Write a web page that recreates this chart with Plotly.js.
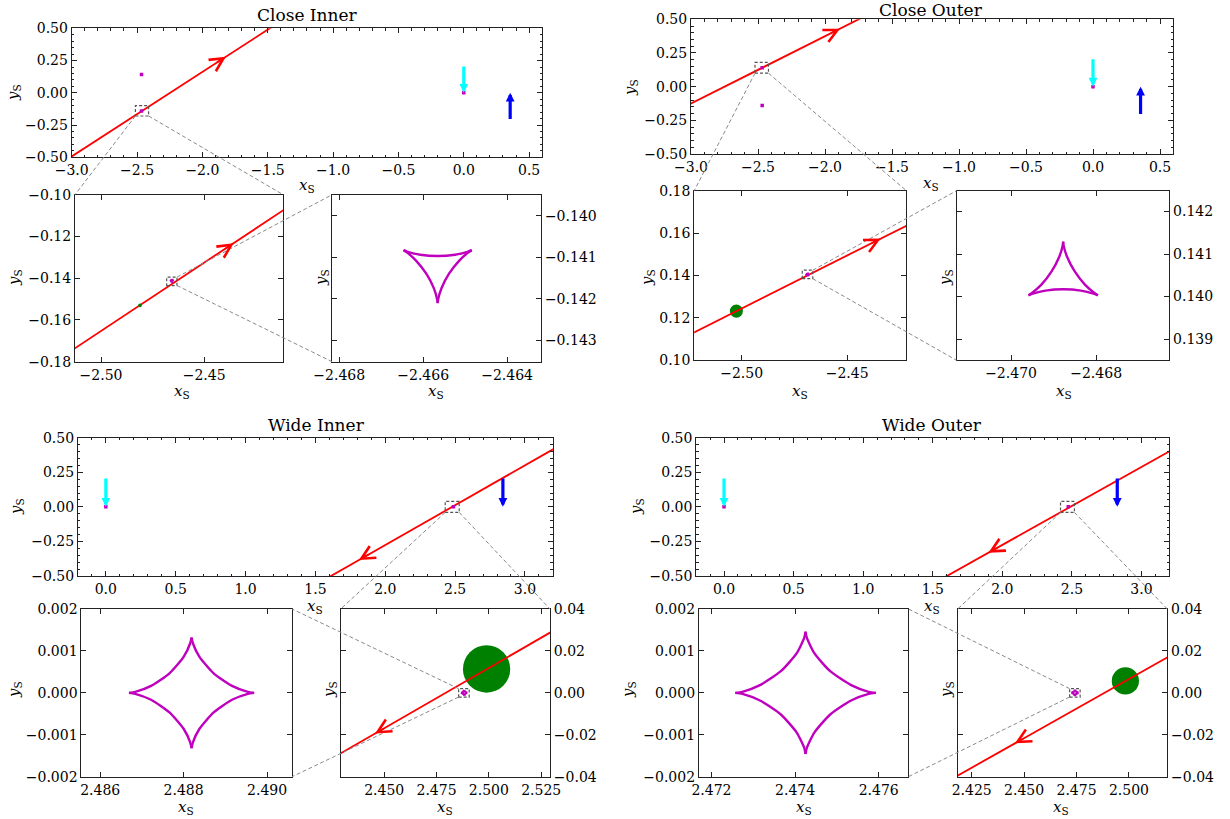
<!DOCTYPE html>
<html><head><meta charset="utf-8">
<script src="https://cdn.plot.ly/plotly-3.0.1.min.js"></script>
<style>html,body{margin:0;padding:0;background:#fff}#chart{width:1230px;height:819px}</style>
</head><body><div id="chart"></div>
<script>
// ---------------- DATA ----------------
const panelTitles = ['Close Inner', 'Close Outer', 'Wide Inner', 'Wide Outer'];

// caustic curves (arcs separated by null)
const closeInnerCausticX = [-2.464842,-2.464944,-2.465240,-2.465655,-2.466070,-2.466366,-2.466468,null,
  -2.466468,-2.466378,-2.466165,-2.465926,-2.465749,-2.465668,-2.465655,null,
  -2.465655,-2.465642,-2.465561,-2.465384,-2.465145,-2.464932,-2.464842];
const closeInnerCausticY = [-0.140824,-0.140864,-0.140934,-0.140966,-0.140934,-0.140864,-0.140824,null,
  -0.140824,-0.140885,-0.141082,-0.141392,-0.141734,-0.142001,-0.142102,null,
  -0.142102,-0.142001,-0.141734,-0.141392,-0.141082,-0.140885,-0.140824];
const closeOuterCausticX = [-2.467959,-2.468062,-2.468358,-2.468775,-2.469192,-2.469488,-2.469591,null,
  -2.469591,-2.469501,-2.469286,-2.469047,-2.468869,-2.468788,-2.468775,null,
  -2.468775,-2.468762,-2.468681,-2.468503,-2.468264,-2.468049,-2.467959];
const closeOuterCausticY = [0.14003,0.14007,0.14014,0.14017,0.14014,0.14007,0.14003,null,
  0.14003,0.14009,0.14028,0.14059,0.14093,0.14119,0.14129,null,
  0.14129,0.14119,0.14093,0.14059,0.14028,0.14009,0.14003];
const wideInnerCausticX = [2.48969,2.48954,2.48916,2.48872,2.48838,2.48822,2.48819,null,
  2.48819,2.48816,2.48800,2.48766,2.48722,2.48684,2.48669,null,
  2.48669,2.48684,2.48722,2.48766,2.48800,2.48816,2.48819,null,
  2.48819,2.48822,2.48838,2.48872,2.48916,2.48954,2.48969];
const wideInnerCausticY = [0,0.000023,0.000165,0.000467,0.000857,0.001189,0.00132,null,
  0.00132,0.001189,0.000857,0.000467,0.000165,0.000023,0,null,
  0,-0.000023,-0.000165,-0.000467,-0.000857,-0.001189,-0.00132,null,
  -0.00132,-0.001189,-0.000857,-0.000467,-0.000165,-0.000023,0];
const wideOuterCausticX = [2.47593,2.47576,2.47534,2.47484,2.47446,2.47428,2.47425,null,
  2.47425,2.47422,2.47404,2.47366,2.47316,2.47274,2.47257,null,
  2.47257,2.47274,2.47316,2.47366,2.47404,2.47422,2.47425,null,
  2.47425,2.47428,2.47446,2.47484,2.47534,2.47576,2.47593];
const wideOuterCausticY = [0,0.000025,0.000183,0.000516,0.000948,0.001315,0.00146,null,
  0.00146,0.001315,0.000948,0.000516,0.000183,0.000025,0,null,
  0,-0.000025,-0.000183,-0.000516,-0.000948,-0.001315,-0.00146,null,
  -0.00146,-0.001315,-0.000948,-0.000516,-0.000183,-0.000025,0];

// caustic positions shown as dots on the wide-view axes
const closeInnerDotsX = [-2.4657, -2.4657, 0.0];
const closeInnerDotsY = [-0.1415, 0.1415, 0.0];
const closeOuterDotsX = [-2.4688, -2.4688, 0.0];
const closeOuterDotsY = [0.1405, -0.1405, 0.0];
const wideInnerDotsX = [2.4882, 0.0];
const wideInnerDotsY = [0.0, 0.0];
const wideOuterDotsX = [2.4742, 0.0];
const wideOuterDotsY = [0.0, 0.0];

// source trajectories (straight lines)
const closeInnerTrajX = [-3.1, -1.4];
const closeInnerTrajY = [-0.5583, 0.5552];
const closeOuterTrajX = [-3.1, -1.6];
const closeOuterTrajY = [-0.1756, 0.5745];
const wideInnerTrajX = [1.5, 3.3];
const wideInnerTrajY = [-0.5641, 0.4727];
const wideOuterTrajX = [1.5, 3.3];
const wideOuterTrajY = [-0.5574, 0.4578];

// direction arrows on trajectories: [tailX, tailY, tipX, tipY] for wide view and zoom view
const trajArrowWide = [[-1.90, 0.2277, -1.82, 0.2801], [-1.968, 0.3905, -1.888, 0.4305],
                       [1.891, -0.3388, 1.811, -0.3849], [1.98, -0.2867, 1.90, -0.3318]];
const trajArrowZoom = [[-2.4407, -0.1265, -2.4357, -0.1232], [-2.4391, 0.1549, -2.4341, 0.1574],
                       [2.4506, -0.01657, 2.4456, -0.01945], [2.4506, -0.0213, 2.4456, -0.0241]];

// sources
const sourceX = [-2.4811, -2.5025, 2.4989, 2.4983];
const sourceY = [-0.1530, 0.1232, 0.0114, 0.0057];
const sourceR = [0.0009, 0.0031, 0.0113, 0.0065];

// lenses (arrow tip positions) and arrow tails
const lens1X = [0.0, 0.0, 0.0, 0.0];
const lens1TailY = [0.215, 0.215, 0.215, 0.215];
const lens2X = [0.355, 0.355, 2.842, 2.826];
const lens2TailY = [-0.215, -0.215, 0.215, 0.215];
const lensTipY = [0.0, 0.0, 0.0, 0.0];

// axis ranges (wide view, zoom A, zoom B for each panel)
const rangeX = [[-3.0, 0.6], [-2.5126, -2.4117], [-2.46817, -2.46319],
                [-3.0, 0.6], [-2.5225, -2.4219], [-2.47128, -2.46628],
                [-0.2, 3.2], [2.48555, 2.4906], [2.4292, 2.5292],
                [-0.2, 3.2], [2.4717, 2.47671], [2.4183, 2.5183]];
const rangeY = [[-0.5, 0.5], [-0.18, -0.10], [-0.14351, -0.13949],
                [-0.5, 0.5], [0.10, 0.18], [0.13850, 0.14249],
                [-0.5, 0.5], [-0.002, 0.002], [-0.04, 0.04],
                [-0.5, 0.5], [-0.002, 0.002], [-0.04, 0.04]];

// ---------------- LAYOUT GEOMETRY (pixels) ----------------
const W = 1230, H = 819;
const boxes = [
  [71.7, 542.2, 28.3, 157.3], [75, 283.2, 194.7, 361.7], [332.1, 541.1, 194.7, 361.7],
  [691, 1173.4, 19.3, 154], [694.2, 906.4, 190.7, 360.3], [956.6, 1169.3, 190.7, 360.3],
  [77.9, 552.9, 437.7, 576], [81.4, 292.1, 609, 776.7], [340.7, 550, 609, 776.7],
  [696.2, 1169.3, 437.7, 576], [698.9, 908.4, 609, 776.7], [957.7, 1167.3, 609, 776.7]
];
const causticsX = [closeInnerCausticX, closeOuterCausticX, wideInnerCausticX, wideOuterCausticX];
const causticsY = [closeInnerCausticY, closeOuterCausticY, wideInnerCausticY, wideOuterCausticY];
const dotsX = [closeInnerDotsX, closeOuterDotsX, wideInnerDotsX, wideOuterDotsX];
const dotsY = [closeInnerDotsY, closeOuterDotsY, wideInnerDotsY, wideOuterDotsY];
const trajX = [closeInnerTrajX, closeOuterTrajX, wideInnerTrajX, wideOuterTrajX];
const trajY = [closeInnerTrajY, closeOuterTrajY, wideInnerTrajY, wideOuterTrajY];

const FONT = 'DejaVu Serif';
const RED = '#ff0000', MAG = '#bf00bf', GREEN = '#008000', BLUE = '#0000ff', CYAN = '#00ffff';

const sfx = k => (k === 0 ? '' : String(k + 1));
const xid = k => 'x' + sfx(k);
const yid = k => 'y' + sfx(k);

function toPaper(k, x, y) {
  const b = boxes[k], rx = rangeX[k], ry = rangeY[k];
  const px = b[0] + (x - rx[0]) / (rx[1] - rx[0]) * (b[1] - b[0]);
  const py = b[3] - (y - ry[0]) / (ry[1] - ry[0]) * (b[3] - b[2]);
  return [px / W, 1 - py / H];
}
function cornerPaper(k, which) {
  const b = boxes[k];
  const px = which.includes('l') ? b[0] : b[1];
  const py = which.includes('t') ? b[2] : b[3];
  return [px / W, 1 - py / H];
}

const layout = {
  width: W, height: H, margin: {l: 0, r: 0, t: 0, b: 0},
  paper_bgcolor: '#fff', plot_bgcolor: '#fff', showlegend: false,
  font: {family: FONT, size: 14, color: '#000'},
  shapes: [], annotations: []
};

const axisBase = {
  showline: true, linecolor: '#222', linewidth: 1, mirror: 'ticks',
  ticks: 'inside', ticklen: 5, tickwidth: 1, tickcolor: '#222',
  showgrid: false, zeroline: false, autorange: false, fixedrange: true,
  tickfont: {family: FONT, size: 14, color: '#000'}
};

// tick specs per axis role
function tickSpec(k) {
  const p = Math.floor(k / 3), role = k % 3;
  const close = p < 2;
  if (role === 0) return {x: {dtick: 0.5, fmt: '.1f', minor: 0.1}, y: {dtick: 0.25, fmt: '.2f', minor: 0.05}, yside: 'left'};
  if (close && role === 1) return {x: {dtick: 0.05, fmt: '.2f'}, y: {dtick: 0.02, fmt: '.2f'}, yside: 'left'};
  if (close && role === 2) return {x: {dtick: 0.002, fmt: '.3f'}, y: {dtick: 0.001, fmt: '.3f'}, yside: 'right'};
  if (!close && role === 1) return {x: {dtick: 0.002, fmt: '.3f'}, y: {dtick: 0.001, fmt: '.3f'}, yside: 'left'};
  return {x: {dtick: 0.025, fmt: '.3f'}, y: {dtick: 0.02, fmt: '.2f'}, yside: 'right'};
}

for (let k = 0; k < 12; k++) {
  const b = boxes[k], t = tickSpec(k);
  const xa = Object.assign({}, axisBase, {
    domain: [b[0] / W, b[1] / W], anchor: yid(k), range: rangeX[k],
    tickmode: 'linear', tick0: 0, dtick: t.x.dtick, tickformat: t.x.fmt
  });
  const ya = Object.assign({}, axisBase, {
    domain: [1 - b[3] / H, 1 - b[2] / H], anchor: xid(k), range: rangeY[k],
    tickmode: 'linear', tick0: 0, dtick: t.y.dtick, tickformat: t.y.fmt, side: t.yside
  });
  if (t.x.minor) xa.minor = {dtick: t.x.minor, tick0: 0, ticks: 'inside', ticklen: 2.5, tickcolor: '#222', showgrid: false};
  if (t.y.minor) ya.minor = {dtick: t.y.minor, tick0: 0, ticks: 'inside', ticklen: 2.5, tickcolor: '#222', showgrid: false};
  layout['xaxis' + sfx(k)] = xa;
  layout['yaxis' + sfx(k)] = ya;
}

const traces = [];
const dashBox = {color: '#555', width: 1.2, dash: '3px,2px'};
const connLine = {color: '#8a8a8a', width: 1, dash: '4px,2.5px'};

for (let p = 0; p < 4; p++) {
  const close = p < 2;
  const kTop = 3 * p, kZoom = close ? 3 * p + 1 : 3 * p + 2, kClose = close ? 3 * p + 2 : 3 * p + 1;

  // trajectories
  [kTop, kZoom].forEach(k => traces.push({
    x: trajX[p], y: trajY[p], mode: 'lines', line: {color: RED, width: 1.8},
    xaxis: xid(k), yaxis: yid(k), hoverinfo: 'skip'
  }));
  // caustic in zoom view and close-up
  traces.push({x: causticsX[p], y: causticsY[p], mode: 'lines', line: {color: MAG, width: 2.2},
    xaxis: xid(kZoom), yaxis: yid(kZoom), hoverinfo: 'skip'});
  traces.push({x: causticsX[p], y: causticsY[p], mode: 'lines', line: {color: MAG, width: 2.4, shape: 'spline', smoothing: 0.6},
    connectgaps: false, xaxis: xid(kClose), yaxis: yid(kClose), hoverinfo: 'skip'});
  // caustic dots on wide view
  traces.push({x: dotsX[p], y: dotsY[p], mode: 'markers', marker: {color: MAG, size: 3.5, symbol: 'square'},
    xaxis: xid(kTop), yaxis: yid(kTop), hoverinfo: 'skip'});

  // source circle in zoom view
  layout.shapes.push({type: 'circle', xref: xid(kZoom), yref: yid(kZoom),
    x0: sourceX[p] - sourceR[p], x1: sourceX[p] + sourceR[p],
    y0: sourceY[p] - sourceR[p], y1: sourceY[p] + sourceR[p],
    fillcolor: GREEN, line: {width: 0}, layer: p === 0 ? 'above' : 'below'});

  // dashed boxes marking the zoomed regions
  layout.shapes.push({type: 'rect', xref: xid(kTop), yref: yid(kTop),
    x0: rangeX[kZoom][0], x1: rangeX[kZoom][1], y0: rangeY[kZoom][0], y1: rangeY[kZoom][1],
    line: dashBox, fillcolor: 'rgba(0,0,0,0)'});
  layout.shapes.push({type: 'rect', xref: xid(kZoom), yref: yid(kZoom),
    x0: rangeX[kClose][0], x1: rangeX[kClose][1], y0: rangeY[kClose][0], y1: rangeY[kClose][1],
    line: dashBox, fillcolor: 'rgba(0,0,0,0)'});

  // connector lines
  const conns = [];
  conns.push([toPaper(kTop, rangeX[kZoom][0], rangeY[kZoom][0]), cornerPaper(kZoom, 'tl')]);
  conns.push([toPaper(kTop, rangeX[kZoom][1], rangeY[kZoom][0]), cornerPaper(kZoom, 'tr')]);
  if (close) {
    conns.push([toPaper(kZoom, rangeX[kClose][1], rangeY[kClose][1]), cornerPaper(kClose, 'tl')]);
    conns.push([toPaper(kZoom, rangeX[kClose][1], rangeY[kClose][0]), cornerPaper(kClose, 'bl')]);
  } else {
    conns.push([toPaper(kZoom, rangeX[kClose][0], rangeY[kClose][1]), cornerPaper(kClose, 'tr')]);
    conns.push([toPaper(kZoom, rangeX[kClose][0], rangeY[kClose][0]), cornerPaper(kClose, 'br')]);
  }
  conns.forEach(c => layout.shapes.push({type: 'line', xref: 'paper', yref: 'paper',
    x0: c[0][0], y0: c[0][1], x1: c[1][0], y1: c[1][1], line: connLine, layer: 'above'}));

  // lens arrows (wide view)
  layout.annotations.push({xref: xid(kTop), yref: yid(kTop), axref: xid(kTop), ayref: yid(kTop),
    x: lens1X[p], y: lensTipY[p], ax: lens1X[p], ay: lens1TailY[p], text: '', showarrow: true,
    arrowhead: 2, arrowsize: 0.55, arrowwidth: 3.2, arrowcolor: CYAN});
  layout.annotations.push({xref: xid(kTop), yref: yid(kTop), axref: xid(kTop), ayref: yid(kTop),
    x: lens2X[p], y: lensTipY[p], ax: lens2X[p], ay: lens2TailY[p], text: '', showarrow: true,
    arrowhead: 2, arrowsize: 0.55, arrowwidth: 3.2, arrowcolor: BLUE});

  // trajectory direction arrows
  [[kTop, trajArrowWide[p]], [kZoom, trajArrowZoom[p]]].forEach(([k, a]) => layout.annotations.push({
    xref: xid(k), yref: yid(k), axref: xid(k), ayref: yid(k),
    x: a[2], y: a[3], ax: a[0], ay: a[1], text: '', showarrow: true,
    arrowhead: 5, arrowsize: 1.65, arrowwidth: 1.6, arrowcolor: RED}));
}

// titles and axis labels (pixel positions)
const titlePos = [[307, 15], [931, 10], [316, 425], [932, 425]];
titlePos.forEach((pos, i) => layout.annotations.push({xref: 'paper', yref: 'paper',
  x: pos[0] / W, y: 1 - pos[1] / H, xanchor: 'center', yanchor: 'middle', showarrow: false,
  text: panelTitles[i], font: {family: FONT, size: 17, color: '#000'}}));

const XS = '<i>x</i><sub>S</sub>', YS = '<i>y</i><sub>S</sub>';
const xLabelPos = [[307, 186], [182, 391], [436, 391], [931, 183], [800, 391], [1064, 391],
                   [315, 606], [186, 807], [445, 807], [932, 606], [804, 807], [1061, 807]];
const yLabelPos = [[13, 93], [14, 278], [321, 278], [630, 88], [647, 278], [945, 278],
                   [16, 507], [14, 690], [329, 690], [636, 507], [628, 690], [946, 690]];
xLabelPos.forEach(pos => layout.annotations.push({xref: 'paper', yref: 'paper',
  x: pos[0] / W, y: 1 - pos[1] / H, xanchor: 'center', yanchor: 'middle', showarrow: false,
  text: XS, font: {family: FONT, size: 15, color: '#000'}}));
yLabelPos.forEach(pos => layout.annotations.push({xref: 'paper', yref: 'paper',
  x: pos[0] / W, y: 1 - pos[1] / H, xanchor: 'center', yanchor: 'middle', showarrow: false,
  textangle: -90, text: YS, font: {family: FONT, size: 15, color: '#000'}}));

Plotly.newPlot('chart', traces, layout, {staticPlot: true, displayModeBar: false});
</script>
</body></html>
